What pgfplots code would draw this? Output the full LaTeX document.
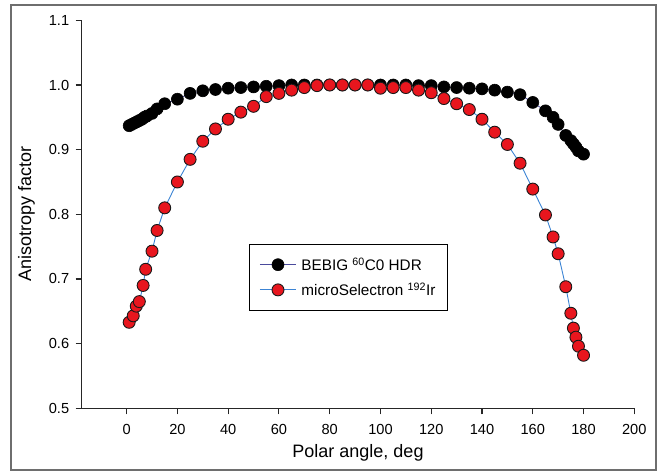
\documentclass[border=0pt]{standalone}
\usepackage{pgfplots}
\pgfplotsset{compat=1.18}
\usepackage{fontspec}
\setmainfont{Liberation Sans}

\definecolor{cobline}{HTML}{4A4A9C}
\definecolor{irline}{HTML}{3C84D4}
\definecolor{irfill}{HTML}{E8161E}
\definecolor{framegray}{HTML}{6E6E6E}

\begin{document}
\begin{tikzpicture}
\begin{axis}[
  scale only axis,
  width=552.6pt, height=388pt,
  xmin=-17.7, xmax=200,
  ymin=0.5, ymax=1.1,
  axis x line*=bottom,
  axis y line*=left,
  axis line style={line width=1.1pt, color=black!85},
  xtick={0,20,...,200},
  ytick={0.5,0.6,...,1.1},
  tick align=outside,
  major tick length=6pt,
  tick style={line width=1.1pt, color=black!85},
  /pgf/number format/assume math mode=true,
  yticklabel style={/pgf/number format/fixed, /pgf/number format/fixed zerofill,
    /pgf/number format/precision=1, font=\fontsize{14.6}{17}\selectfont, xshift=-3pt},
  xticklabel style={font=\fontsize{14.6}{17}\selectfont, yshift=-6pt},
  xlabel={Polar angle, deg},
  ylabel={Anisotropy factor},
  every axis x label/.style={at={(axis description cs:0.5,-0.092)}, anchor=north,
    inner sep=0pt, font=\fontsize{18}{21}\selectfont},
  every axis y label/.style={at={(axis description cs:-0.0845,0.5)}, anchor=south,
    rotate=90, inner sep=0pt, font=\fontsize{18}{21}\selectfont},
  legend style={at={(0.303,0.423)}, anchor=north west, draw=black, line width=0.8pt,
    font=\fontsize{15.3}{18}\selectfont, inner xsep=10pt, inner ysep=11pt,
    row sep=7pt, cells={anchor=west},
    /tikz/every odd column/.append style={column sep=3pt}},
  legend image code/.code={%
    \draw[mark repeat=2, mark phase=2, #1] plot coordinates {(0pt,0pt) (18pt,0pt) (36pt,0pt)};},
  clip=false,
]
% BEBIG Co-60 source
\addplot[color=cobline, line width=0.8pt, mark=*, mark size=6pt,
  mark options={fill=black, draw=black, line width=0.6pt}] coordinates {
  (1,0.937) (2,0.939) (3,0.941) (4,0.943) (5,0.945) (6,0.947) (7,0.950) (8,0.952)
  (10,0.956) (12,0.963) (15,0.971) (20,0.978) (25,0.987) (30,0.991) (35,0.993)
  (40,0.995) (45,0.996) (50,0.997) (55,0.998) (60,0.999) (65,1.000) (70,1.000)
  (75,1.000) (80,1.000) (85,1.000) (90,1.000) (95,1.000) (100,1.000) (105,1.000)
  (110,1.000) (115,0.999) (120,0.999) (125,0.997) (130,0.996) (135,0.995)
  (140,0.994) (145,0.992) (150,0.989) (155,0.985) (160,0.973) (165,0.960)
  (168,0.950) (170,0.939) (173,0.922) (175,0.914) (176,0.909) (177,0.904)
  (178,0.898) (180,0.893)};
\addlegendentry{BEBIG \textsuperscript{60}C0 HDR}
% microSelectron Ir-192 source
\addplot[color=irline, line width=0.9pt, mark=*, mark size=6pt,
  mark options={fill=irfill, draw=black!90, line width=0.9pt}] coordinates {
  (1,0.633) (2.6,0.643) (3.8,0.658) (5,0.665) (6.5,0.690) (7.5,0.715) (10,0.743)
  (12,0.775) (15,0.810) (20,0.850) (25,0.885) (30,0.913) (35,0.932) (40,0.947)
  (45,0.958) (50,0.967) (55,0.982) (60,0.987) (65,0.992) (70,0.996) (75,0.999)
  (80,1.000) (85,1.000) (90,1.000) (95,1.000) (100,0.995) (105,0.996) (110,0.996)
  (115,0.992) (120,0.988) (125,0.979) (130,0.971) (135,0.962) (140,0.947)
  (145,0.927) (150,0.908) (155,0.879) (160,0.839) (165,0.799) (168,0.765)
  (170,0.739) (173,0.688) (175,0.647) (176,0.624) (177,0.610) (178,0.596)
  (180,0.582)};
\addlegendentry{microSelectron \textsuperscript{192}Ir}
\end{axis}
\pgfresetboundingbox
\path[use as bounding box] (-81.7pt,-63.7pt) rectangle (578.3pt,408.3pt);
\draw[framegray, line width=1.4pt] (-70.7pt,-61.7pt) rectangle (574.3pt,403.3pt);
\end{tikzpicture}
\end{document}
